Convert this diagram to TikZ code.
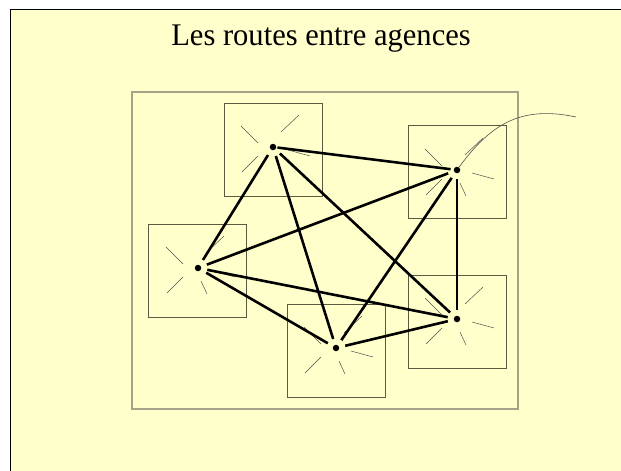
\documentclass[tikz,border=0pt]{standalone}
\usepackage{fontspec}
\setmainfont{Liberation Serif}
\usetikzlibrary{positioning}

\definecolor{fond}{RGB}{255,255,204}
\definecolor{cadregris}{RGB}{164,164,136}
\definecolor{boitegris}{RGB}{90,90,64}
\definecolor{rayongris}{RGB}{80,80,80}

\tikzset{
    agence/.style={draw=boitegris, line width=0.9pt, minimum width=98pt, minimum height=93pt, inner sep=0pt},
    point/.style={circle, fill=black, inner sep=0pt, minimum size=6.5pt},
    route/.style={line width=2.6pt, shorten >=6pt, shorten <=6pt},
    rayon/.style={draw=rayongris, line width=0.5pt},
}

\begin{document}
\begin{tikzpicture}[x=1pt, y=-1pt]
    \useasboundingbox (0,0) rectangle (621,471);
    \fill[fond] (10,9) rectangle (621,471);
    \draw[line width=1pt] (10,471) -- (10,9) -- (621,9);

    \node[font=\fontsize{31.5}{34}\selectfont, anchor=base, xscale=0.97] (titre) at (321,45) {Les routes entre agences};
    \draw[cadregris, line width=1.5pt] (132,92) rectangle (518,409);

    % les agences
    \node[agence] (boiteA) at (273,149.5) {};
    \node[agence] (boiteB) at (457,172) {};
    \node[agence] (boiteC) at (197.5,270.5) {};
    \node[agence] (boiteD) at (336.5,351) {};
    \node[agence] (boiteE) at (457.5,321.5) {};

    \node[point] (A) at (273,147) {};
    \node[point] (B) at (457,170) {};
    \node[point] (C) at (198,268) {};
    \node[point] (D) at (336,348) {};
    \node[point] (E) at (457,319) {};

    % rayons autour des points
    \foreach \p in {A,B,C,D,E} {
        \draw[rayon] ([shift={(-32,-21)}]\p.center) -- ([shift={(-15,-4)}]\p.center);
        \draw[rayon] ([shift={(8,-15)}]\p.center) -- ([shift={(26,-32)}]\p.center);
        \draw[rayon] ([shift={(15,3)}]\p.center) -- ([shift={(37,9)}]\p.center);
        \draw[rayon] ([shift={(-31,25)}]\p.center) -- ([shift={(-15,9)}]\p.center);
        \draw[rayon] ([shift={(3,13)}]\p.center) -- ([shift={(9,26)}]\p.center);
    }

    \coordinate (fil) at (576,117);
    \draw[rayongris, line width=0.6pt] (B) .. controls (490,125) and (520,105) .. (fil);

    % les routes
    \draw[route]
    (A) edge[shorten <=1pt, shorten >=3pt] (B)
        (A) edge (C)
        (A) edge (D)
        (A) edge (E)
    (B) edge (C)
        (B) edge (D)
        (B) edge (E)
    (C) edge (D)
        (C) edge (E)
    (D) edge (E);
\end{tikzpicture}
\end{document}
